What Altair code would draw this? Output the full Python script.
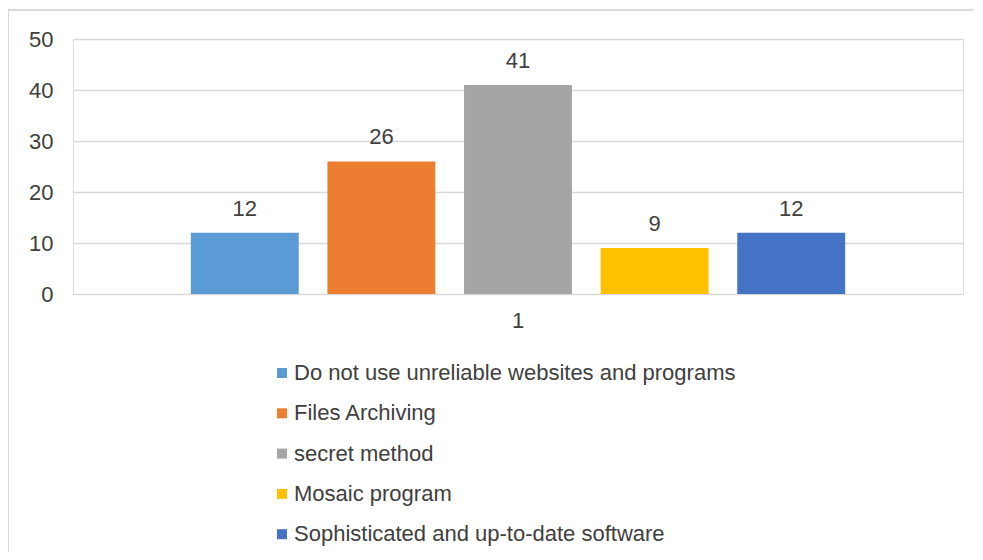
import altair as alt
import pandas as pd

categories = ["1"] * 5
series = [
    "Do not use unreliable websites and programs",
    "Files Archiving",
    "secret method",
    "Mosaic program",
    "Sophisticated and up-to-date software",
]
values = [12, 26, 41, 9, 12]
colors = ["#5B9BD5", "#ED7D31", "#A5A5A5", "#FFC000", "#4472C4"]

df = pd.DataFrame({"cat": categories, "series": series, "value": values})

FONT = "Liberation Sans"
TXT = "#404040"
FS = 22

x = alt.X("cat:N", title=None,
          scale=alt.Scale(paddingInner=0, paddingOuter=0.1515),
          axis=alt.Axis(labelAngle=0, labelFontSize=FS, labelColor=TXT, labelFont=FONT,
                        ticks=False, domain=False, labelPadding=16, grid=False))
xoff = alt.XOffset("series:N", sort=series,
                   scale=alt.Scale(paddingInner=0.21, paddingOuter=0.105))
y = alt.Y("value:Q", title=None,
          scale=alt.Scale(domain=[0, 50], nice=False),
          axis=alt.Axis(values=[0, 10, 20, 30, 40, 50], labelFontSize=FS, labelColor=TXT,
                        labelFont=FONT, ticks=False, domain=False, labelPadding=20,
                        gridColor="#D9D9D9", gridWidth=1.5))

border = alt.Chart(df).mark_rect(fill=None, stroke="#D9D9D9", strokeWidth=1.5).encode(
    x=alt.value(-65), x2=alt.value(915), y=alt.value(-29), y2=alt.value(526)
)

bars = alt.Chart(df).mark_bar().encode(
    x=x, xOffset=xoff, y=y,
    color=alt.Color("series:N", sort=series,
                    scale=alt.Scale(domain=series, range=colors),
                    legend=alt.Legend(title=None, orient="none", legendX=198, legendY=323,
                                      symbolType="square", symbolSize=100, symbolStrokeWidth=0,
                                      labelFontSize=FS, labelColor=TXT, labelFont=FONT,
                                      labelLimit=600, rowPadding=18.3, labelOffset=1,
                                      direction="vertical")),
)

labels = alt.Chart(df).mark_text(baseline="bottom", dy=-12, fontSize=FS, color=TXT, font=FONT).encode(
    x=x, xOffset=xoff, y=y, text="value:Q"
)

chart = alt.layer(border, bars, labels).properties(
    width=890, height=255,
    autosize=alt.AutoSizeParams(type="none"),
    padding={"left": 65, "top": 31, "right": 10, "bottom": 258},
).configure_view(stroke=None).configure(background="white")

chart.save("out.html", embed_options={"renderer": "svg", "actions": False})
